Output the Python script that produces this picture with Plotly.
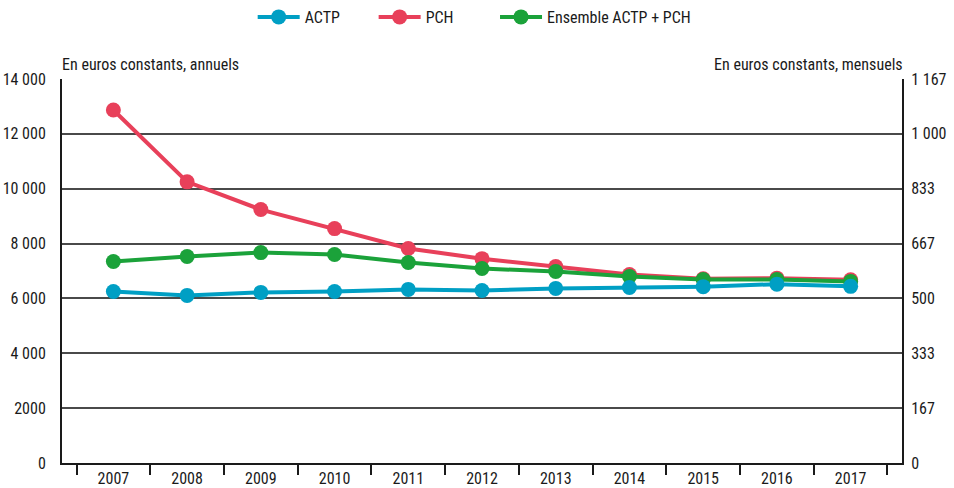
import plotly.graph_objects as go

years = ["2007", "2008", "2009", "2010", "2011", "2012", "2013", "2014", "2015", "2016", "2017"]
actp = [6255, 6110, 6220, 6255, 6330, 6290, 6365, 6400, 6430, 6520, 6440]
pch = [12870, 10250, 9240, 8545, 7820, 7450, 7165, 6870, 6720, 6740, 6680]
ensemble = [7345, 7530, 7670, 7600, 7310, 7090, 6980, 6800, 6690, 6690, 6620]

left_ticks = [0, 2000, 4000, 6000, 8000, 10000, 12000, 14000]
left_labels = ["0", "2000", "4 000", "6 000", "8 000", "10 000", "12 000", "14 000"]
right_labels = ["0", "167", "333", "500", "667", "833", "1 000", "1 167"]

FONT = "Roboto Condensed, Roboto, sans-serif"
colors = {"ACTP": "#009FC4", "PCH": "#E8405A", "Ensemble ACTP + PCH": "#1BA23A"}
legend_of = {"ACTP": "legend", "PCH": "legend2", "Ensemble ACTP + PCH": "legend3"}

fig = go.Figure()
# drawing order: PCH under, then Ensemble, then ACTP on top
for name, vals in [("PCH", pch), ("Ensemble ACTP + PCH", ensemble), ("ACTP", actp)]:
    fig.add_trace(go.Scatter(
        x=years, y=vals, name=name, mode="lines+markers", legend=legend_of[name],
        line=dict(color=colors[name], width=4),
        marker=dict(color=colors[name], size=15),
    ))
# invisible helper trace for the right (monthly) axis
fig.add_trace(go.Scatter(x=years, y=[v / 12 for v in actp], yaxis="y2",
                         showlegend=False, mode="lines", line=dict(width=0),
                         hoverinfo="skip", opacity=0))

def leg(x):
    return dict(orientation="h", x=x, xanchor="left", y=1.0, yanchor="top",
                yref="container", font=dict(size=16), bgcolor="rgba(0,0,0,0)",
                itemwidth=42)

fig.update_layout(
    width=954, height=488,
    margin=dict(l=62, r=52, t=79, b=25),
    paper_bgcolor="white", plot_bgcolor="white",
    font=dict(family=FONT, size=16, color="#1a1a1a"),
    legend=leg(0.227), legend2=leg(0.371), legend3=leg(0.5155),
    xaxis=dict(type="category", showline=True, linecolor="#1a1a1a", linewidth=2,
               ticks="outside", tickson="boundaries", ticklen=10, tickwidth=2,
               tickcolor="#1a1a1a", showgrid=False, automargin=False,
               tickfont=dict(size=16)),
    yaxis=dict(range=[0, 14000], tickvals=left_ticks, ticktext=left_labels,
               showline=True, linecolor="#1a1a1a", linewidth=2, automargin=False,
               showgrid=True, gridcolor="#4a4a4a", gridwidth=1.5, zeroline=False,
               ticks="", ticklabelstandoff=11, tickfont=dict(size=16)),
    yaxis2=dict(range=[0, 14000 / 12], overlaying="y", side="right",
                tickvals=[v / 12 for v in left_ticks], ticktext=right_labels,
                showline=True, linecolor="#1a1a1a", linewidth=2, showgrid=False,
                automargin=False, zeroline=False, ticks="", ticklabelstandoff=4,
                tickfont=dict(size=16)),
    annotations=[
        dict(text="En euros constants, annuels", x=0, xref="paper", xanchor="left",
             y=1.0, yref="paper", yanchor="bottom", yshift=3, xshift=-2, showarrow=False,
             font=dict(size=16)),
        dict(text="En euros constants, mensuels", x=1.0, xref="paper", xanchor="right",
             y=1.0, yref="paper", yanchor="bottom", yshift=3, xshift=3, showarrow=False,
             font=dict(size=16)),
    ],
)
fig.write_html("out.html", config={"displayModeBar": False},
               post_script="document.body.style.margin='0';")
